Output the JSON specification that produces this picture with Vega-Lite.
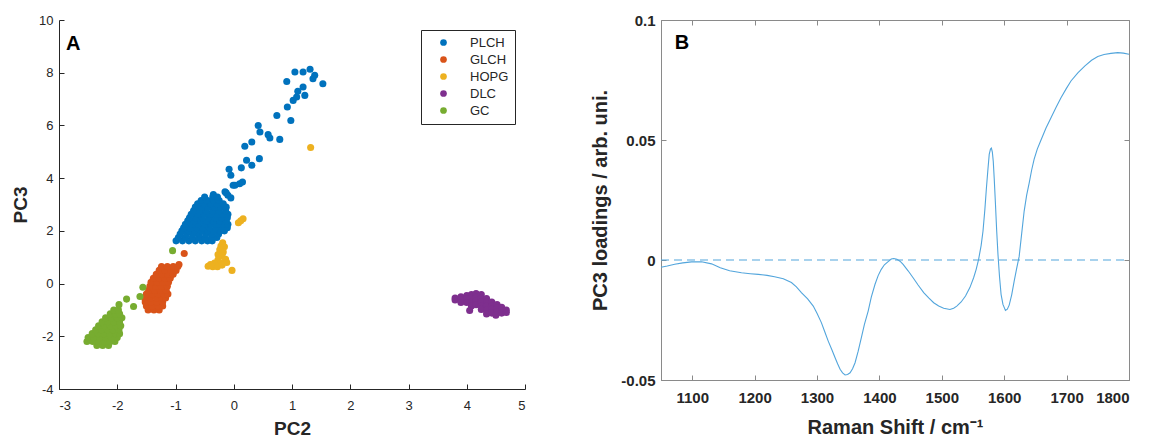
{
  "$schema": "https://vega.github.io/schema/vega-lite/v6.json",
  "background": "white",
  "padding": {"left": 11, "top": 12, "right": 5, "bottom": 0},
  "config": {
    "font": "Liberation Sans",
    "axis": {"grid": false, "labelFont": "Liberation Sans", "titleFont": "Liberation Sans"}
  },
  "resolve": {"scale": {"color": "independent"}, "legend": {"color": "independent"}},
  "spacing": 64,
  "datasets": {
    "scores": [
      {"g":"PLCH","pc2":-0.99,"pc3":1.62},{"g":"PLCH","pc2":-0.88,"pc3":1.62},{"g":"PLCH","pc2":-0.77,"pc3":1.62},{"g":"PLCH","pc2":-0.66,"pc3":1.62},{"g":"PLCH","pc2":-0.55,"pc3":1.62},{"g":"PLCH","pc2":-0.45,"pc3":1.62},{"g":"PLCH","pc2":-0.37,"pc3":1.62},
      {"g":"PLCH","pc2":-0.95,"pc3":1.75},{"g":"PLCH","pc2":-0.83,"pc3":1.75},{"g":"PLCH","pc2":-0.71,"pc3":1.75},{"g":"PLCH","pc2":-0.6,"pc3":1.75},{"g":"PLCH","pc2":-0.49,"pc3":1.75},{"g":"PLCH","pc2":-0.38,"pc3":1.75},{"g":"PLCH","pc2":-0.29,"pc3":1.75},
      {"g":"PLCH","pc2":-0.92,"pc3":1.88},{"g":"PLCH","pc2":-0.81,"pc3":1.88},{"g":"PLCH","pc2":-0.7,"pc3":1.88},{"g":"PLCH","pc2":-0.59,"pc3":1.88},{"g":"PLCH","pc2":-0.48,"pc3":1.88},{"g":"PLCH","pc2":-0.37,"pc3":1.88},{"g":"PLCH","pc2":-0.26,"pc3":1.88},
      {"g":"PLCH","pc2":-0.89,"pc3":2.0},{"g":"PLCH","pc2":-0.78,"pc3":2.0},{"g":"PLCH","pc2":-0.67,"pc3":2.0},{"g":"PLCH","pc2":-0.56,"pc3":2.0},{"g":"PLCH","pc2":-0.45,"pc3":2.0},{"g":"PLCH","pc2":-0.34,"pc3":2.0},{"g":"PLCH","pc2":-0.23,"pc3":2.0},{"g":"PLCH","pc2":-0.16,"pc3":2.0},
      {"g":"PLCH","pc2":-0.86,"pc3":2.12},{"g":"PLCH","pc2":-0.75,"pc3":2.12},{"g":"PLCH","pc2":-0.64,"pc3":2.12},{"g":"PLCH","pc2":-0.53,"pc3":2.12},{"g":"PLCH","pc2":-0.42,"pc3":2.12},{"g":"PLCH","pc2":-0.31,"pc3":2.12},{"g":"PLCH","pc2":-0.2,"pc3":2.12},{"g":"PLCH","pc2":-0.11,"pc3":2.12},
      {"g":"PLCH","pc2":-0.83,"pc3":2.25},{"g":"PLCH","pc2":-0.72,"pc3":2.25},{"g":"PLCH","pc2":-0.61,"pc3":2.25},{"g":"PLCH","pc2":-0.5,"pc3":2.25},{"g":"PLCH","pc2":-0.39,"pc3":2.25},{"g":"PLCH","pc2":-0.28,"pc3":2.25},{"g":"PLCH","pc2":-0.17,"pc3":2.25},{"g":"PLCH","pc2":-0.1,"pc3":2.25},
      {"g":"PLCH","pc2":-0.79,"pc3":2.38},{"g":"PLCH","pc2":-0.68,"pc3":2.38},{"g":"PLCH","pc2":-0.57,"pc3":2.38},{"g":"PLCH","pc2":-0.46,"pc3":2.38},{"g":"PLCH","pc2":-0.35,"pc3":2.38},{"g":"PLCH","pc2":-0.24,"pc3":2.38},{"g":"PLCH","pc2":-0.13,"pc3":2.38},
      {"g":"PLCH","pc2":-0.76,"pc3":2.5},{"g":"PLCH","pc2":-0.65,"pc3":2.5},{"g":"PLCH","pc2":-0.54,"pc3":2.5},{"g":"PLCH","pc2":-0.43,"pc3":2.5},{"g":"PLCH","pc2":-0.32,"pc3":2.5},{"g":"PLCH","pc2":-0.21,"pc3":2.5},{"g":"PLCH","pc2":-0.11,"pc3":2.5},
      {"g":"PLCH","pc2":-0.73,"pc3":2.63},{"g":"PLCH","pc2":-0.62,"pc3":2.63},{"g":"PLCH","pc2":-0.51,"pc3":2.63},{"g":"PLCH","pc2":-0.4,"pc3":2.63},{"g":"PLCH","pc2":-0.29,"pc3":2.63},{"g":"PLCH","pc2":-0.18,"pc3":2.63},{"g":"PLCH","pc2":-0.1,"pc3":2.63},
      {"g":"PLCH","pc2":-0.69,"pc3":2.76},{"g":"PLCH","pc2":-0.58,"pc3":2.76},{"g":"PLCH","pc2":-0.47,"pc3":2.76},{"g":"PLCH","pc2":-0.36,"pc3":2.76},{"g":"PLCH","pc2":-0.25,"pc3":2.76},{"g":"PLCH","pc2":-0.14,"pc3":2.76},
      {"g":"PLCH","pc2":-0.66,"pc3":2.9},{"g":"PLCH","pc2":-0.55,"pc3":2.9},{"g":"PLCH","pc2":-0.44,"pc3":2.9},{"g":"PLCH","pc2":-0.33,"pc3":2.9},{"g":"PLCH","pc2":-0.22,"pc3":2.9},{"g":"PLCH","pc2":-0.13,"pc3":2.9},
      {"g":"PLCH","pc2":-0.62,"pc3":3.03},{"g":"PLCH","pc2":-0.51,"pc3":3.03},{"g":"PLCH","pc2":-0.4,"pc3":3.03},{"g":"PLCH","pc2":-0.29,"pc3":3.03},{"g":"PLCH","pc2":-0.18,"pc3":3.03},
      {"g":"PLCH","pc2":-0.56,"pc3":3.15},{"g":"PLCH","pc2":-0.45,"pc3":3.15},{"g":"PLCH","pc2":-0.35,"pc3":3.15},{"g":"PLCH","pc2":-0.25,"pc3":3.15},
      {"g":"PLCH","pc2":-0.5,"pc3":3.28},{"g":"PLCH","pc2":-0.36,"pc3":3.28},{"g":"PLCH","pc2":-0.28,"pc3":3.28},{"g":"PLCH","pc2":-0.35,"pc3":3.38},
      {"g":"PLCH","pc2":-0.15,"pc3":3.48},{"g":"PLCH","pc2":-0.1,"pc3":3.35},{"g":"PLCH","pc2":-0.05,"pc3":3.25},{"g":"PLCH","pc2":-0.13,"pc3":3.44},
      {"g":"PLCH","pc2":0.02,"pc3":3.73},{"g":"PLCH","pc2":0.1,"pc3":3.79},{"g":"PLCH","pc2":0.15,"pc3":3.85},{"g":"PLCH","pc2":-0.01,"pc3":3.73},
      {"g":"PLCH","pc2":-0.08,"pc3":4.34},{"g":"PLCH","pc2":-0.05,"pc3":4.11},{"g":"PLCH","pc2":0.13,"pc3":4.39},{"g":"PLCH","pc2":0.31,"pc3":4.49},{"g":"PLCH","pc2":0.22,"pc3":4.68},{"g":"PLCH","pc2":0.44,"pc3":4.74},
      {"g":"PLCH","pc2":0.19,"pc3":5.21},{"g":"PLCH","pc2":0.31,"pc3":5.37},{"g":"PLCH","pc2":0.79,"pc3":5.47},{"g":"PLCH","pc2":0.62,"pc3":5.52},{"g":"PLCH","pc2":0.59,"pc3":5.65},{"g":"PLCH","pc2":0.45,"pc3":5.75},{"g":"PLCH","pc2":0.42,"pc3":6.0},
      {"g":"PLCH","pc2":0.98,"pc3":6.19},{"g":"PLCH","pc2":0.74,"pc3":6.38},{"g":"PLCH","pc2":0.92,"pc3":6.7},{"g":"PLCH","pc2":1.02,"pc3":6.95},{"g":"PLCH","pc2":1.08,"pc3":7.08},{"g":"PLCH","pc2":1.22,"pc3":7.14},{"g":"PLCH","pc2":1.1,"pc3":7.3},{"g":"PLCH","pc2":1.19,"pc3":7.46},
      {"g":"PLCH","pc2":0.91,"pc3":7.67},{"g":"PLCH","pc2":1.53,"pc3":7.58},{"g":"PLCH","pc2":1.36,"pc3":7.77},{"g":"PLCH","pc2":1.39,"pc3":7.9},{"g":"PLCH","pc2":1.31,"pc3":8.13},{"g":"PLCH","pc2":1.19,"pc3":8.03},{"g":"PLCH","pc2":1.05,"pc3":8.03},

      {"g":"GLCH","pc2":-1.47,"pc3":-1.0},{"g":"GLCH","pc2":-1.37,"pc3":-1.0},{"g":"GLCH","pc2":-1.28,"pc3":-1.0},
      {"g":"GLCH","pc2":-1.5,"pc3":-0.85},{"g":"GLCH","pc2":-1.4,"pc3":-0.85},{"g":"GLCH","pc2":-1.3,"pc3":-0.85},{"g":"GLCH","pc2":-1.22,"pc3":-0.85},
      {"g":"GLCH","pc2":-1.52,"pc3":-0.7},{"g":"GLCH","pc2":-1.42,"pc3":-0.7},{"g":"GLCH","pc2":-1.32,"pc3":-0.7},{"g":"GLCH","pc2":-1.22,"pc3":-0.7},
      {"g":"GLCH","pc2":-1.53,"pc3":-0.55},{"g":"GLCH","pc2":-1.43,"pc3":-0.55},{"g":"GLCH","pc2":-1.33,"pc3":-0.55},{"g":"GLCH","pc2":-1.23,"pc3":-0.55},{"g":"GLCH","pc2":-1.17,"pc3":-0.55},
      {"g":"GLCH","pc2":-1.5,"pc3":-0.4},{"g":"GLCH","pc2":-1.4,"pc3":-0.4},{"g":"GLCH","pc2":-1.3,"pc3":-0.4},{"g":"GLCH","pc2":-1.2,"pc3":-0.4},{"g":"GLCH","pc2":-1.13,"pc3":-0.4},
      {"g":"GLCH","pc2":-1.46,"pc3":-0.25},{"g":"GLCH","pc2":-1.36,"pc3":-0.25},{"g":"GLCH","pc2":-1.26,"pc3":-0.25},{"g":"GLCH","pc2":-1.16,"pc3":-0.25},
      {"g":"GLCH","pc2":-1.44,"pc3":-0.1},{"g":"GLCH","pc2":-1.34,"pc3":-0.1},{"g":"GLCH","pc2":-1.24,"pc3":-0.1},{"g":"GLCH","pc2":-1.14,"pc3":-0.1},
      {"g":"GLCH","pc2":-1.42,"pc3":0.05},{"g":"GLCH","pc2":-1.32,"pc3":0.05},{"g":"GLCH","pc2":-1.22,"pc3":0.05},{"g":"GLCH","pc2":-1.12,"pc3":0.05},
      {"g":"GLCH","pc2":-1.38,"pc3":0.2},{"g":"GLCH","pc2":-1.28,"pc3":0.2},{"g":"GLCH","pc2":-1.18,"pc3":0.2},{"g":"GLCH","pc2":-1.09,"pc3":0.2},
      {"g":"GLCH","pc2":-1.33,"pc3":0.35},{"g":"GLCH","pc2":-1.23,"pc3":0.35},{"g":"GLCH","pc2":-1.13,"pc3":0.35},{"g":"GLCH","pc2":-1.04,"pc3":0.35},
      {"g":"GLCH","pc2":-1.28,"pc3":0.5},{"g":"GLCH","pc2":-1.18,"pc3":0.5},{"g":"GLCH","pc2":-1.08,"pc3":0.5},{"g":"GLCH","pc2":-0.99,"pc3":0.5},
      {"g":"GLCH","pc2":-1.24,"pc3":0.65},{"g":"GLCH","pc2":-1.14,"pc3":0.65},{"g":"GLCH","pc2":-1.04,"pc3":0.65},{"g":"GLCH","pc2":-0.96,"pc3":0.65},
      {"g":"GLCH","pc2":-0.94,"pc3":0.72},{"g":"GLCH","pc2":-0.85,"pc3":1.14},

      {"g":"HOPG","pc2":1.32,"pc3":5.16},{"g":"HOPG","pc2":0.08,"pc3":2.31},{"g":"HOPG","pc2":0.16,"pc3":2.46},{"g":"HOPG","pc2":0.12,"pc3":2.38},
      {"g":"HOPG","pc2":-0.19,"pc3":1.55},{"g":"HOPG","pc2":-0.22,"pc3":1.42},{"g":"HOPG","pc2":-0.16,"pc3":1.4},{"g":"HOPG","pc2":-0.24,"pc3":1.28},{"g":"HOPG","pc2":-0.18,"pc3":1.2},
      {"g":"HOPG","pc2":-0.27,"pc3":1.1},{"g":"HOPG","pc2":-0.2,"pc3":1.05},{"g":"HOPG","pc2":-0.14,"pc3":0.92},{"g":"HOPG","pc2":-0.27,"pc3":0.9},{"g":"HOPG","pc2":-0.33,"pc3":0.78},
      {"g":"HOPG","pc2":-0.22,"pc3":0.78},{"g":"HOPG","pc2":-0.12,"pc3":0.8},{"g":"HOPG","pc2":-0.44,"pc3":0.66},{"g":"HOPG","pc2":-0.36,"pc3":0.64},{"g":"HOPG","pc2":-0.28,"pc3":0.64},
      {"g":"HOPG","pc2":-0.2,"pc3":0.7},{"g":"HOPG","pc2":-0.4,"pc3":0.72},{"g":"HOPG","pc2":-0.03,"pc3":0.5},

      {"g":"DLC","pc2":3.8,"pc3":-0.55},{"g":"DLC","pc2":3.8,"pc3":-0.62},
      {"g":"DLC","pc2":3.9,"pc3":-0.5},{"g":"DLC","pc2":3.9,"pc3":-0.62},{"g":"DLC","pc2":3.9,"pc3":-0.72},
      {"g":"DLC","pc2":4.0,"pc3":-0.45},{"g":"DLC","pc2":4.0,"pc3":-0.58},{"g":"DLC","pc2":4.0,"pc3":-0.72},
      {"g":"DLC","pc2":4.08,"pc3":-0.42},{"g":"DLC","pc2":4.08,"pc3":-0.55},{"g":"DLC","pc2":4.08,"pc3":-0.7},{"g":"DLC","pc2":4.08,"pc3":-0.85},{"g":"DLC","pc2":4.05,"pc3":-1.02},
      {"g":"DLC","pc2":4.16,"pc3":-0.38},{"g":"DLC","pc2":4.16,"pc3":-0.52},{"g":"DLC","pc2":4.16,"pc3":-0.66},{"g":"DLC","pc2":4.16,"pc3":-0.8},
      {"g":"DLC","pc2":4.25,"pc3":-0.42},{"g":"DLC","pc2":4.25,"pc3":-0.56},{"g":"DLC","pc2":4.25,"pc3":-0.7},{"g":"DLC","pc2":4.25,"pc3":-0.84},{"g":"DLC","pc2":4.25,"pc3":-0.98},
      {"g":"DLC","pc2":4.34,"pc3":-0.57},{"g":"DLC","pc2":4.34,"pc3":-0.7},{"g":"DLC","pc2":4.34,"pc3":-0.85},{"g":"DLC","pc2":4.34,"pc3":-1.0},{"g":"DLC","pc2":4.34,"pc3":-1.15},
      {"g":"DLC","pc2":4.43,"pc3":-0.7},{"g":"DLC","pc2":4.43,"pc3":-0.84},{"g":"DLC","pc2":4.43,"pc3":-0.98},{"g":"DLC","pc2":4.43,"pc3":-1.12},
      {"g":"DLC","pc2":4.52,"pc3":-0.8},{"g":"DLC","pc2":4.52,"pc3":-0.94},{"g":"DLC","pc2":4.52,"pc3":-1.08},{"g":"DLC","pc2":4.5,"pc3":-1.2},
      {"g":"DLC","pc2":4.6,"pc3":-0.9},{"g":"DLC","pc2":4.6,"pc3":-1.02},{"g":"DLC","pc2":4.6,"pc3":-1.12},
      {"g":"DLC","pc2":4.68,"pc3":-1.0},{"g":"DLC","pc2":4.68,"pc3":-1.1},

      {"g":"GC","pc2":-2.35,"pc3":-2.35},{"g":"GC","pc2":-2.25,"pc3":-2.35},{"g":"GC","pc2":-2.15,"pc3":-2.35},
      {"g":"GC","pc2":-2.52,"pc3":-2.2},{"g":"GC","pc2":-2.42,"pc3":-2.2},{"g":"GC","pc2":-2.32,"pc3":-2.2},{"g":"GC","pc2":-2.22,"pc3":-2.2},{"g":"GC","pc2":-2.12,"pc3":-2.2},{"g":"GC","pc2":-2.04,"pc3":-2.2},
      {"g":"GC","pc2":-2.5,"pc3":-2.05},{"g":"GC","pc2":-2.4,"pc3":-2.05},{"g":"GC","pc2":-2.3,"pc3":-2.05},{"g":"GC","pc2":-2.2,"pc3":-2.05},{"g":"GC","pc2":-2.1,"pc3":-2.05},{"g":"GC","pc2":-2.0,"pc3":-2.05},
      {"g":"GC","pc2":-2.43,"pc3":-1.9},{"g":"GC","pc2":-2.33,"pc3":-1.9},{"g":"GC","pc2":-2.23,"pc3":-1.9},{"g":"GC","pc2":-2.13,"pc3":-1.9},{"g":"GC","pc2":-2.03,"pc3":-1.9},{"g":"GC","pc2":-1.96,"pc3":-1.9},
      {"g":"GC","pc2":-2.37,"pc3":-1.75},{"g":"GC","pc2":-2.27,"pc3":-1.75},{"g":"GC","pc2":-2.17,"pc3":-1.75},{"g":"GC","pc2":-2.07,"pc3":-1.75},{"g":"GC","pc2":-1.97,"pc3":-1.75},
      {"g":"GC","pc2":-2.32,"pc3":-1.6},{"g":"GC","pc2":-2.22,"pc3":-1.6},{"g":"GC","pc2":-2.12,"pc3":-1.6},{"g":"GC","pc2":-2.02,"pc3":-1.6},{"g":"GC","pc2":-1.94,"pc3":-1.6},
      {"g":"GC","pc2":-2.26,"pc3":-1.45},{"g":"GC","pc2":-2.16,"pc3":-1.45},{"g":"GC","pc2":-2.06,"pc3":-1.45},{"g":"GC","pc2":-1.96,"pc3":-1.45},
      {"g":"GC","pc2":-2.2,"pc3":-1.3},{"g":"GC","pc2":-2.1,"pc3":-1.3},{"g":"GC","pc2":-2.0,"pc3":-1.3},{"g":"GC","pc2":-1.92,"pc3":-1.3},
      {"g":"GC","pc2":-2.12,"pc3":-1.15},{"g":"GC","pc2":-2.03,"pc3":-1.15},{"g":"GC","pc2":-1.96,"pc3":-1.15},
      {"g":"GC","pc2":-2.06,"pc3":-1.0},{"g":"GC","pc2":-1.98,"pc3":-1.0},
      {"g":"GC","pc2":-1.97,"pc3":-0.8},{"g":"GC","pc2":-1.84,"pc3":-0.59},{"g":"GC","pc2":-1.72,"pc3":-0.87},{"g":"GC","pc2":-1.61,"pc3":-0.49},{"g":"GC","pc2":-1.56,"pc3":-0.14},
      {"g":"GC","pc2":-1.05,"pc3":1.25}
    ],
    "loadings": [
      {"shift":1050,"v":-0.0030},{"shift":1060,"v":-0.0025},{"shift":1072,"v":-0.0018},{"shift":1085,"v":-0.0012},{"shift":1099,"v":-0.0008},
      {"shift":1115,"v":-0.0007},{"shift":1131,"v":-0.0016},{"shift":1145,"v":-0.0032},{"shift":1160,"v":-0.0045},{"shift":1179,"v":-0.0053},
      {"shift":1193,"v":-0.0057},{"shift":1206,"v":-0.0060},{"shift":1220,"v":-0.0064},{"shift":1232,"v":-0.0070},{"shift":1246,"v":-0.0078},
      {"shift":1259,"v":-0.0094},{"shift":1267,"v":-0.0112},{"shift":1275,"v":-0.0136},{"shift":1285,"v":-0.0162},{"shift":1294,"v":-0.0192},
      {"shift":1300,"v":-0.0222},{"shift":1307,"v":-0.0261},{"shift":1312,"v":-0.0296},{"shift":1318,"v":-0.0338},{"shift":1324,"v":-0.0375},
      {"shift":1329,"v":-0.0407},{"shift":1333,"v":-0.0432},{"shift":1337,"v":-0.0455},{"shift":1341,"v":-0.0470},{"shift":1345,"v":-0.0479},
      {"shift":1349,"v":-0.0477},{"shift":1353,"v":-0.0470},{"shift":1357,"v":-0.0453},{"shift":1361,"v":-0.0428},{"shift":1366,"v":-0.0380},
      {"shift":1371,"v":-0.0324},{"shift":1376,"v":-0.0268},{"shift":1382,"v":-0.0213},{"shift":1387,"v":-0.0155},{"shift":1393,"v":-0.0101},
      {"shift":1398,"v":-0.0065},{"shift":1403,"v":-0.0039},{"shift":1408,"v":-0.0020},{"shift":1414,"v":-0.0007},{"shift":1419,"v":0.0004},
      {"shift":1423,"v":0.0006},{"shift":1428,"v":0.0003},{"shift":1433,"v":-0.0005},{"shift":1438,"v":-0.0018},{"shift":1446,"v":-0.0045},
      {"shift":1454,"v":-0.0074},{"shift":1462,"v":-0.0104},{"shift":1471,"v":-0.0136},{"shift":1479,"v":-0.0158},{"shift":1487,"v":-0.0178},
      {"shift":1495,"v":-0.0192},{"shift":1503,"v":-0.0201},{"shift":1513,"v":-0.0206},{"shift":1519,"v":-0.0201},{"shift":1524,"v":-0.0192},
      {"shift":1531,"v":-0.0175},{"shift":1538,"v":-0.0150},{"shift":1545,"v":-0.0115},{"shift":1551,"v":-0.0074},{"shift":1555,"v":-0.0040},
      {"shift":1559,"v":0.0003},{"shift":1563,"v":0.0060},{"shift":1566,"v":0.0120},{"shift":1569,"v":0.0210},{"shift":1571.5,"v":0.0300},
      {"shift":1574,"v":0.0380},{"shift":1576,"v":0.0440},{"shift":1578,"v":0.0462},{"shift":1579.5,"v":0.0466},{"shift":1581,"v":0.0450},
      {"shift":1582.5,"v":0.0410},{"shift":1584,"v":0.0340},{"shift":1586,"v":0.0232},{"shift":1588,"v":0.0120},{"shift":1590,"v":0.0024},
      {"shift":1592.5,"v":-0.0070},{"shift":1595,"v":-0.0143},{"shift":1598,"v":-0.0185},{"shift":1602,"v":-0.0210},{"shift":1605,"v":-0.0205},
      {"shift":1608,"v":-0.0188},{"shift":1612,"v":-0.0145},{"shift":1616,"v":-0.0088},{"shift":1620,"v":-0.0035},{"shift":1624,"v":0.0015},
      {"shift":1628,"v":0.0110},{"shift":1632,"v":0.0204},{"shift":1636,"v":0.0270},{"shift":1640,"v":0.0320},{"shift":1644,"v":0.0375},
      {"shift":1648,"v":0.0420},{"shift":1653,"v":0.0462},{"shift":1659,"v":0.0500},{"shift":1667,"v":0.0550},{"shift":1675,"v":0.0593},
      {"shift":1683,"v":0.0635},{"shift":1691,"v":0.0676},{"shift":1699,"v":0.0712},{"shift":1707,"v":0.0746},{"shift":1718,"v":0.0780},
      {"shift":1729,"v":0.0808},{"shift":1740,"v":0.0832},{"shift":1750,"v":0.0848},{"shift":1760,"v":0.0856},{"shift":1771,"v":0.0861},
      {"shift":1782,"v":0.0864},{"shift":1791,"v":0.0862},{"shift":1800,"v":0.0857}
    ],
    "zero": [{"shift":1050,"v":0},{"shift":1800,"v":0}]
  },
  "hconcat": [
    {
      "width": 466,
      "height": 369,
      "view": {"stroke": null},
      "layer": [
        {
          "data": {"name": "scores"},
          "mark": {"type": "circle", "size": 50, "opacity": 1},
          "encoding": {
            "x": {
              "field": "pc2", "type": "quantitative",
              "scale": {"domain": [-3, 5], "nice": false, "zero": false},
              "axis": {
                "title": "PC2", "values": [-3,-2,-1,0,1,2,3,4,5],
                "labelExpr": "'' + datum.value",
                "domainColor": "#262626", "tickColor": "#262626", "tickSize": -5,
                "labelColor": "#262626", "labelFontSize": 13, "labelPadding": 15,
                "titleFontSize": 19, "titleFontWeight": "bold", "titleColor": "#262626", "titlePadding": 7
              }
            },
            "y": {
              "field": "pc3", "type": "quantitative",
              "scale": {"domain": [-4, 10], "nice": false, "zero": false},
              "axis": {
                "title": "PC3", "values": [-4,-2,0,2,4,6,8,10],
                "labelExpr": "'' + datum.value",
                "domainColor": "#262626", "tickColor": "#262626", "tickSize": -5,
                "labelColor": "#262626", "labelFontSize": 13, "labelPadding": 11,
                "titleFontSize": 19, "titleFontWeight": "bold", "titleColor": "#262626", "titlePadding": 8
              }
            },
            "color": {
              "field": "g", "type": "nominal",
              "scale": {"domain": ["PLCH","GLCH","HOPG","DLC","GC"], "range": ["#0072BD","#D95319","#EDB120","#7E2F8E","#77AC30"]},
              "legend": {
                "title": null, "orient": "top-right", "offset": 10,
                "strokeColor": "#262626", "fillColor": "white", "padding": 6,
                "symbolType": "circle", "symbolSize": 45, "symbolOffset": 10, "labelOffset": 20,
                "labelFontSize": 13, "labelColor": "#262626", "rowPadding": 3
              }
            }
          }
        },
        {
          "data": {"values": [{"pc2": -2.88, "pc3": 9.1, "label": "A"}]},
          "mark": {"type": "text", "align": "left", "baseline": "middle", "fontSize": 20, "fontWeight": "bold", "color": "black"},
          "encoding": {
            "x": {"field": "pc2", "type": "quantitative"},
            "y": {"field": "pc3", "type": "quantitative"},
            "text": {"field": "label"}
          }
        }
      ]
    },
    {
      "width": 468,
      "height": 360,
      "view": {"stroke": "#8a8a8a"},
      "layer": [
        {
          "data": {"name": "loadings"},
          "mark": {"type": "line", "strokeWidth": 1.1, "color": "#52a5dc"},
          "encoding": {
            "x": {
              "field": "shift", "type": "quantitative",
              "scale": {"domain": [1050, 1800], "nice": false, "zero": false},
              "axis": {
                "orient": "bottom", "title": "Raman Shift / cm⁻¹", "values": [1100,1200,1300,1400,1500,1600,1700,1800],
                "labelExpr": "'' + datum.value",
                "domainColor": "#8a8a8a", "tickColor": "#8a8a8a", "tickSize": -5,
                "labelColor": "#262626", "labelFontSize": 15, "labelFontWeight": "bold", "labelPadding": 15,
                "titleFontSize": 20, "titleFontWeight": "bold", "titleColor": "#262626", "titlePadding": 12
              }
            },
            "y": {
              "field": "v", "type": "quantitative",
              "scale": {"domain": [-0.05, 0.1], "nice": false, "zero": false},
              "axis": {
                "orient": "left", "title": "PC3 loadings / arb. uni.", "values": [-0.05, 0, 0.05, 0.1],
                "labelExpr": "'' + datum.value",
                "domainColor": "#8a8a8a", "tickColor": "#8a8a8a", "tickSize": -5,
                "labelColor": "#262626", "labelFontSize": 15, "labelFontWeight": "bold", "labelPadding": 11,
                "titleFontSize": 20, "titleFontWeight": "bold", "titleColor": "#262626", "titlePadding": 10
              }
            }
          }
        },
        {
          "data": {"name": "zero"},
          "mark": {"type": "line", "strokeDash": [8, 5], "strokeWidth": 1.1, "color": "#52a5dc"},
          "encoding": {
            "x": {
              "field": "shift", "type": "quantitative",
              "axis": {"orient": "top", "labels": false, "title": null, "domain": false, "tickColor": "#8a8a8a", "tickSize": -5, "values": [1100,1200,1300,1400,1500,1600,1700,1800]}
            },
            "y": {
              "field": "v", "type": "quantitative",
              "axis": {"orient": "right", "labels": false, "title": null, "domain": false, "tickColor": "#8a8a8a", "tickSize": -5, "values": [-0.05, 0, 0.05, 0.1]}
            }
          }
        },
        {
          "data": {"values": [{"shift": 1072, "v": 0.0905, "label": "B"}]},
          "mark": {"type": "text", "align": "left", "baseline": "middle", "fontSize": 20, "fontWeight": "bold", "color": "black"},
          "encoding": {
            "x": {"field": "shift", "type": "quantitative", "axis": null},
            "y": {"field": "v", "type": "quantitative", "axis": null},
            "text": {"field": "label"}
          }
        }
      ]
    }
  ]
}
